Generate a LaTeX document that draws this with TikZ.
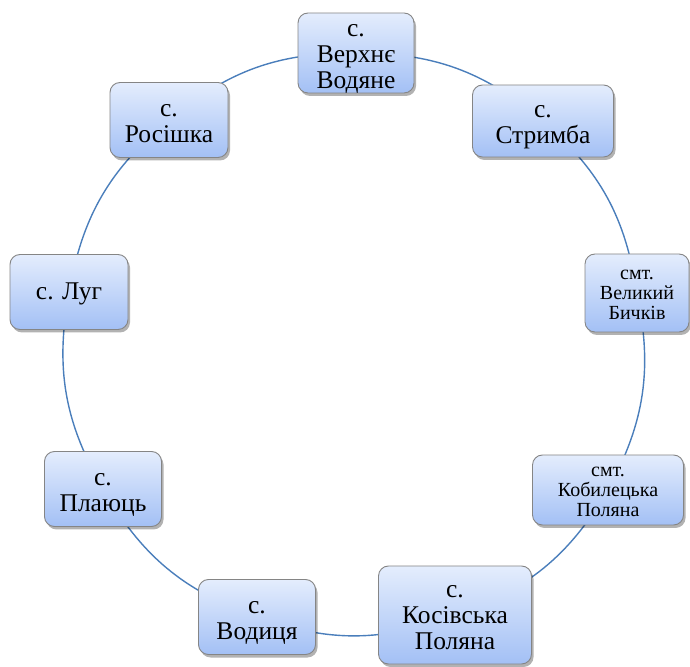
\documentclass[tikz,border=0pt]{standalone}
\usepackage{fontspec}
\setmainfont{Liberation Serif}
\newfontfamily\vfont{Liberation Serif}
\usetikzlibrary{shadows}
\pgfdeclarelayer{background}
\pgfsetlayers{background,main}
\definecolor{ringblue}{HTML}{4A7EBB}
\definecolor{boxtop}{HTML}{E4EDFD}
\definecolor{boxbot}{HTML}{A3C0F5}
\definecolor{boxline}{HTML}{858585}
\newcommand\vlines[2]{\raisebox{#1}[\height][\depth]{\begin{tabular}{@{}c@{}}#2\end{tabular}}}
\tikzset{
  village/.style={draw=boxline, line width=0.9pt, rounded corners=10pt,
    top color=boxtop, bottom color=boxbot, inner sep=1pt,
    font=\vfont\fontsize{25.5}{26}\selectfont,
    drop shadow={shadow xshift=2pt, shadow yshift=-3pt, fill=black, opacity=0.3}},
  town/.style={village, font=\vfont\fontsize{20}{20}\selectfont},
  ring/.style={draw=ringblue, line width=1.4pt}
}
\begin{document}
\begin{tikzpicture}[x=1pt,y=1pt]
\useasboundingbox (0,0) rectangle (690,666);
\node[village, minimum width=116pt, minimum height=77pt] (n1) at (356,613) {\vlines{-4pt}{с.\\Верхнє\\Водяне}};
\node[village, minimum width=141pt, minimum height=72pt] (n2) at (543,545) {\vlines{-4pt}{с.\\Стримба}};
\node[town, minimum width=104pt, minimum height=78pt] (n3) at (637,373) {\vlines{-2.5pt}{смт.\\Великий\\Бичків}};
\node[town, minimum width=151pt, minimum height=70pt] (n4) at (608,176) {\vlines{-2.5pt}{смт.\\Кобилецька\\Поляна}};
\node[village, minimum width=153pt, minimum height=98pt] (n5) at (455,51) {\vlines{-3pt}{с.\\Косівська\\Поляна}};
\node[village, minimum width=117pt, minimum height=75pt] (n6) at (257,49) {\vlines{-4pt}{с.\\Водиця}};
\node[village, minimum width=117pt, minimum height=75pt] (n7) at (103,177) {\vlines{-4pt}{с.\\Плаюць}};
\node[village, minimum width=118pt, minimum height=75pt] (n8) at (69,374) {\vlines{-2pt}{с. Луг}};
\node[village, minimum width=118pt, minimum height=75pt] (n9) at (169,546) {\vlines{-4pt}{с.\\Росішка}};
\begin{pgfonlayer}{background}
\draw[ring] (n1.center) to[bend left=20] (n2.center);
\draw[ring] (n2.center) to[bend left=20] (n3.center);
\draw[ring] (n3.center) to[bend left=20] (n4.center);
\draw[ring] (n4.center) to[bend left=20] (n5.center);
\draw[ring] (n5.center) to[bend left=20] (n6.center);
\draw[ring] (n6.center) to[bend left=20] (n7.center);
\draw[ring] (n7.center) to[bend left=20] (n8.center);
\draw[ring] (n8.center) to[bend left=20] (n9.center);
\draw[ring] (n9.center) to[bend left=20] (n1.center);
\end{pgfonlayer}
\end{tikzpicture}
\end{document}
